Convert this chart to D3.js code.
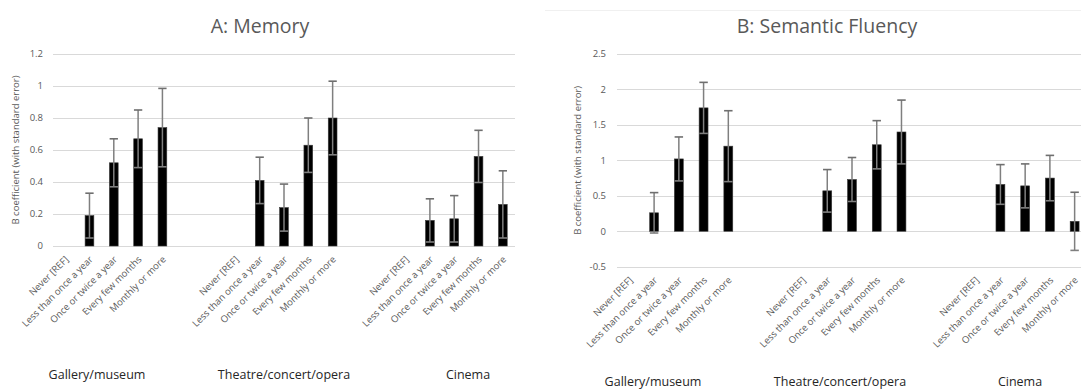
<!DOCTYPE html>
<html>
<head>
<meta charset="utf-8">
<script src="https://cdn.jsdelivr.net/npm/d3@7"></script>
<style>
  html, body { margin: 0; padding: 0; background: #ffffff; }
  svg { display: block; font-family: "Open Sans", "Noto Sans", sans-serif; }
</style>
</head>
<body>
<svg id="chart" width="1081" height="391"></svg>
<script>
// ---------------- data ----------------
const categories = ["Never [REF]", "Less than once a year", "Once or twice a year", "Every few months", "Monthly or more"];
const groups = ["Gallery/museum", "Theatre/concert/opera", "Cinema"];

// Panel A: Memory (B coefficient and standard error), per group, per category (null = reference)
const memoryB  = [[null, 0.19, 0.52, 0.67, 0.74], [null, 0.41, 0.24, 0.63, 0.80], [null, 0.16, 0.17, 0.56, 0.26]];
const memorySE = [[null, 0.14, 0.15, 0.18, 0.245], [null, 0.145, 0.147, 0.17, 0.23], [null, 0.135, 0.145, 0.163, 0.21]];

// Panel B: Semantic fluency
const fluencyB  = [[null, 0.26, 1.02, 1.74, 1.20], [null, 0.57, 0.73, 1.22, 1.40], [null, 0.66, 0.64, 0.75, 0.14]];
const fluencySE = [[null, 0.285, 0.31, 0.36, 0.50], [null, 0.30, 0.31, 0.34, 0.45], [null, 0.28, 0.31, 0.32, 0.41]];

const memoryTicks  = [0, 0.2, 0.4, 0.6, 0.8, 1, 1.2];
const fluencyTicks = [-0.5, 0, 0.5, 1, 1.5, 2, 2.5];

const titles = ["A: Memory", "B: Semantic Fluency"];
const yTitle = "B coefficient (with standard error)";

// ---------------- layout ----------------
const svg = d3.select("#chart");

// slot keys: 5 categories per group, 2 empty slots between groups
const slotKeys = [];
groups.forEach((g, gi) => {
  categories.forEach((c, ci) => slotKeys.push(`g${gi}c${ci}`));
  if (gi < groups.length - 1) { slotKeys.push(`gap${gi}a`); slotKeys.push(`gap${gi}b`); }
});

const panels = [
  { title: titles[0], vals: memoryB, se: memorySE, ticks: memoryTicks, domain: [0, 1.2],
    x0: 53, x1: 515, yTop: 54, yBot: 246, titleX: 260, titleY: 33,
    yTitleX: 16, tickRight: 43, groupX: [97, 284, 468], groupY: 379, tickFont: 9.5, axisFont: 9.5 },
  { title: titles[1], vals: fluencyB, se: fluencySE, ticks: fluencyTicks, domain: [-0.5, 2.5],
    x0: 617, x1: 1087, yTop: 54, yBot: 266.7, titleX: 827, titleY: 33,
    yTitleX: 578, tickRight: 606, groupX: [653, 840, 1020], groupY: 385.5, tickFont: 9.5, axisFont: 9.5 }
];

// faint chart-area border at top of panel B
svg.append("line").attr("x1", 545).attr("x2", 1081).attr("y1", 10.5).attr("y2", 10.5)
  .attr("stroke", "#f0f0f0").attr("stroke-width", 1);

panels.forEach(p => {
  const g = svg.append("g");
  const x = d3.scaleBand().domain(slotKeys).range([p.x0, p.x1]).paddingInner(0.64).paddingOuter(0.32);
  const y = d3.scaleLinear().domain(p.domain).range([p.yBot, p.yTop]);

  // gridlines
  g.selectAll("line.grid").data(p.ticks).join("line")
    .attr("class", "grid")
    .attr("x1", p.x0).attr("x2", p.x1)
    .attr("y1", d => Math.round(y(d)) + 0.5).attr("y2", d => Math.round(y(d)) + 0.5)
    .attr("stroke", "#d9d9d9").attr("stroke-width", 1.2);

  // y tick labels
  g.selectAll("text.ytick").data(p.ticks).join("text")
    .attr("class", "ytick")
    .attr("x", p.tickRight).attr("y", d => y(d))
    .attr("dy", "0.35em")
    .attr("text-anchor", "end")
    .attr("font-size", p.axisFont)
    .attr("fill", "#595959")
    .text(d => String(d));

  // y axis title
  g.append("text")
    .attr("transform", `translate(${p.yTitleX},${(p.yTop + p.yBot) / 2}) rotate(-90)`)
    .attr("text-anchor", "middle")
    .attr("dy", "0.35em")
    .attr("font-size", 9.5)
    .attr("fill", "#595959")
    .text(yTitle);

  // title
  g.append("text")
    .attr("x", p.titleX).attr("y", p.titleY)
    .attr("text-anchor", "middle")
    .attr("font-size", 19.5)
    .attr("fill", "#595959")
    .text(p.title);

  // flatten data
  const rows = [];
  groups.forEach((gn, gi) => categories.forEach((cn, ci) => {
    rows.push({ key: `g${gi}c${ci}`, cat: cn, group: gi, v: p.vals[gi][ci], se: p.se[gi][ci] });
  }));

  // x category labels
  g.selectAll("text.xtick").data(rows).join("text")
    .attr("class", "xtick")
    .attr("transform", d => `translate(${x(d.key) + x.bandwidth() / 2 + 4},${p.yBot + 14}) rotate(-45)`)
    .attr("text-anchor", "end")
    .attr("font-size", p.tickFont)
    .attr("fill", "#595959")
    .text(d => d.cat);

  // group labels
  g.selectAll("text.group").data(groups).join("text")
    .attr("class", "group")
    .attr("x", (d, i) => p.groupX[i]).attr("y", p.groupY)
    .attr("text-anchor", "middle")
    .attr("font-size", 12.5)
    .attr("fill", "#262626")
    .text(d => d);

  const dataRows = rows.filter(d => d.v !== null);

  // bars
  g.selectAll("rect.bar").data(dataRows).join("rect")
    .attr("class", "bar")
    .attr("x", d => x(d.key))
    .attr("width", x.bandwidth())
    .attr("y", d => Math.min(y(d.v), y(0)))
    .attr("height", d => Math.abs(y(d.v) - y(0)))
    .attr("fill", "#000000")
    .attr("stroke", "#3a3a3a").attr("stroke-width", 0.6);

  // error bars
  const capW = x.bandwidth() * 0.95;
  const eb = g.selectAll("g.err").data(dataRows).join("g").attr("class", "err");
  eb.append("line")
    .attr("x1", d => x(d.key) + x.bandwidth() / 2).attr("x2", d => x(d.key) + x.bandwidth() / 2)
    .attr("y1", d => y(d.v - d.se)).attr("y2", d => y(d.v + d.se))
    .attr("stroke", "#7f7f7f").attr("stroke-width", 1.5);
  eb.append("line")
    .attr("x1", d => x(d.key) + x.bandwidth() / 2 - capW / 2).attr("x2", d => x(d.key) + x.bandwidth() / 2 + capW / 2)
    .attr("y1", d => y(d.v + d.se)).attr("y2", d => y(d.v + d.se))
    .attr("stroke", "#6f6f6f").attr("stroke-width", 1.6);
  eb.append("line")
    .attr("x1", d => x(d.key) + x.bandwidth() / 2 - capW / 2).attr("x2", d => x(d.key) + x.bandwidth() / 2 + capW / 2)
    .attr("y1", d => y(d.v - d.se)).attr("y2", d => y(d.v - d.se))
    .attr("stroke", "#7f7f7f").attr("stroke-width", 1.6);
});
</script>
</body>
</html>
